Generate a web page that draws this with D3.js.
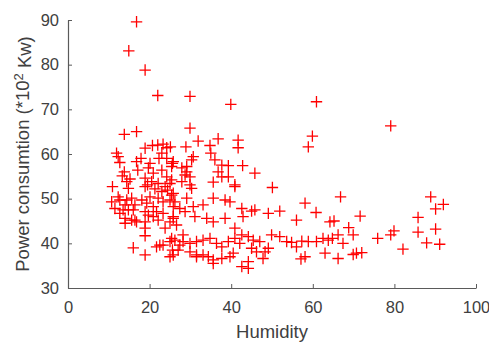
<!DOCTYPE html>
<html>
<head>
<meta charset="utf-8">
<script src="https://cdn.jsdelivr.net/npm/d3@7"></script>
<style>
  html, body { margin: 0; padding: 0; background: #fff; }
  svg { display: block; }
</style>
</head>
<body>
<svg id="chart" width="489" height="342"></svg>
<script>
// ---- data ----
const humidity = [
  16.8,14.9,18.9,22.0,29.9,39.9,60.9,79.1,29.9,13.8,16.8,59.9,58.9,31.9,36.8,41.7,41.7,11.9,12.3,28.9,
  25.1,34.8,35.0,18.9,20.7,22.0,23.3,24.2,23.0,22.3,24.2,17.9,12.7,16.8,25.6,20.1,19.7,17.1,23.0,13.8,
  13.3,20.9,14.4,15.2,10.9,20.5,19.5,22.1,24.2,25.0,23.8,18.9,36.0,37.7,39.3,42.8,30.7,30.3,25.8,27.9,
  25.4,29.1,36.8,39.3,37.7,29.1,28.7,29.9,27.9,29.9,25.4,35.6,40.9,45.8,50.1,66.8,88.9,92.0,90.1,58.1,
  60.8,45.0,45.8,49.1,51.9,56.0,64.2,65.2,68.8,69.9,71.6,85.8,75.9,79.1,79.9,85.8,90.1,87.9,91.1,82.1,
  72.0,70.7,44.2,45.4,47.0,49.9,51.9,53.6,54.8,56.0,57.3,58.9,60.9,62.5,63.8,64.8,66.2,67.4,69.9,66.2,
  63.0,58.1,57.1,49.1,48.3,47.8,46.2,45.0,44.2,44.2,42.6,14.8,18.9,21.3,23.0,24.4,25.8,10.7,11.5,12.7,
  14.0,15.6,16.4,18.1,19.3,20.1,20.9,22.1,23.3,25.0,25.8,12.7,14.0,14.8,16.0,15.6,16.8,18.9,19.7,18.9,
  18.9,20.9,22.1,21.7,23.3,23.8,25.0,25.8,18.9,16.0,18.9,21.7,22.5,25.4,25.0,25.6,25.0,12.3,13.5,14.4,
  16.4,14.0,23.3,25.8,35.6,37.7,31.5,27.0,28.2,25.4,26.2,29.1,30.3,33.1,35.6,38.5,39.7,42.6,40.9,42.9,
  27.4,28.7,30.7,31.1,34.0,35.6,38.5,25.8,26.6,28.2,26.2,27.4,29.9,31.5,33.1,34.8,36.4,37.7,39.3,40.9,
  40.9,42.6,42.1,29.9,31.5,33.1,34.4,35.6,39.7,40.5
];
const power = [
  89.6,83.1,78.8,73.1,72.9,71.1,71.7,66.3,65.8,64.4,65.0,64.0,61.6,62.9,63.4,63.1,61.4,60.2,59.4,61.6,
  61.6,61.9,60.2,61.3,61.9,62.0,62.2,61.4,60.2,59.0,59.0,59.0,58.1,58.3,57.9,57.9,56.9,56.4,56.4,56.0,
  55.1,55.7,53.8,54.4,52.7,53.8,53.1,53.4,54.9,53.4,52.7,54.6,58.7,57.5,57.4,57.4,59.4,58.7,58.3,56.9,
  57.2,57.2,56.0,54.9,54.9,56.0,55.3,54.9,53.8,53.1,54.2,53.7,53.1,55.7,52.5,50.4,50.4,48.7,47.7,49.0,
  46.9,47.2,47.5,46.7,47.2,45.2,44.8,45.0,43.5,41.9,46.1,45.8,41.1,41.9,42.8,42.5,43.2,40.1,39.8,38.7,
  37.9,37.8,41.5,40.7,40.4,41.9,41.5,40.4,40.2,39.2,40.5,40.4,40.4,41.1,40.7,41.1,41.9,40.0,37.5,36.6,
  37.8,37.0,36.5,38.9,38.1,36.6,38.1,38.9,35.9,34.4,34.8,52.3,52.7,52.2,51.6,51.9,51.2,49.3,47.8,49.7,
  48.6,50.1,48.6,49.7,49.0,50.4,48.2,50.1,49.3,49.7,48.2,46.7,45.6,47.5,47.5,45.2,44.8,47.1,46.3,44.8,
  43.4,46.0,45.2,47.1,46.7,43.4,44.8,46.0,41.7,39.0,37.4,39.2,39.6,41.1,40.4,38.5,37.0,50.4,47.5,49.7,
  45.2,44.5,39.6,37.4,35.5,36.6,37.4,38.5,40.4,50.8,49.3,50.1,52.3,48.6,50.1,49.7,49.3,47.8,52.7,46.0,
  47.8,47.1,48.2,46.0,45.6,44.8,45.6,45.6,44.1,41.9,40.7,39.6,40.0,40.4,40.7,41.1,40.0,39.2,40.4,43.4,
  41.1,41.9,40.0,38.1,37.0,37.4,37.0,36.3,37.0,37.8
];
const xTicks = [0, 20, 40, 60, 80, 100];
const yTicks = [30, 40, 50, 60, 70, 80, 90];
const xLabel = "Humidity";
const yLabelMain = "Power consumtion (*10";
const yLabelSup = "2";
const yLabelEnd = " Kw)";

// ---- drawing ----
const svg = d3.select("#chart");
const x = d3.scaleLinear().domain([0, 100]).range([68, 476]);
const y = d3.scaleLinear().domain([30, 90]).range([288, 20]);

const points = humidity.map((h, i) => ({ h, p: power[i] }));

const font = "'Liberation Sans', Arial, Helvetica, sans-serif";
const axisColor = "#5a5a5a";
const textColor = "#404040";

// markers
const arm = 5.7;
svg.append("g")
  .selectAll("path")
  .data(points)
  .join("path")
  .attr("transform", d => `translate(${x(d.h)},${y(d.p)})`)
  .attr("d", `M${-arm},0H${arm}M0,${-arm}V${arm}`)
  .attr("stroke", "#ff0000")
  .attr("stroke-width", 1.3)
  .attr("fill", "none");

// axes
const gx = svg.append("g")
  .attr("transform", `translate(0,${y(30)})`)
  .call(d3.axisBottom(x).tickValues(xTicks).tickSizeInner(-4).tickSizeOuter(0).tickPadding(13));
const gy = svg.append("g")
  .attr("transform", `translate(${x(0)},0)`)
  .call(d3.axisLeft(y).tickValues(yTicks).tickSizeInner(-4).tickSizeOuter(0).tickPadding(9));

[gx, gy].forEach(g => {
  g.select(".domain").attr("stroke", axisColor).attr("stroke-width", 1.2);
  g.selectAll(".tick line").attr("stroke", axisColor).attr("stroke-width", 1);
  g.selectAll(".tick text")
    .attr("fill", textColor)
    .style("font-family", font)
    .style("font-size", "16.5px");
});

// axis labels
svg.append("text")
  .attr("x", (x(0) + x(100)) / 2)
  .attr("y", 338)
  .attr("text-anchor", "middle")
  .attr("fill", textColor)
  .style("font-family", font)
  .style("font-size", "18.5px")
  .text(xLabel);

const yl = svg.append("text")
  .attr("transform", `translate(29,${(y(30) + y(90)) / 2}) rotate(-90)`)
  .attr("text-anchor", "middle")
  .attr("fill", textColor)
  .style("font-family", font)
  .style("font-size", "18.5px");
yl.append("tspan").text(yLabelMain);
yl.append("tspan").attr("dy", "-0.45em").style("font-size", "13px").text(yLabelSup);
yl.append("tspan").attr("dy", "0.45em").text(yLabelEnd);
</script>
</body>
</html>
